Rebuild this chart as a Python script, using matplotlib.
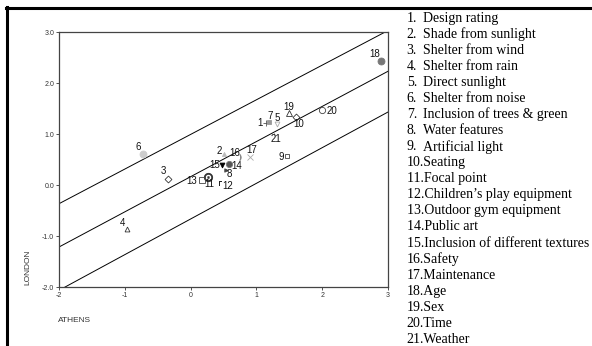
import matplotlib
matplotlib.use('Agg')
from matplotlib import pyplot
from matplotlib.lines import Line2D
import numpy as np

# attribute scores (ATHENS on x, LONDON on y)
point_ids = [str(i) for i in range(1, 22)]
athens = [1.14, 0.51, -0.34, -0.96, 1.31, -0.72, 1.19, 0.54, 1.47, 1.60, 0.27,
          0.44, 0.17, 0.59, 0.48, 0.75, 0.90, 2.90, 1.49, 2.00, 1.26]
london = [1.21, 0.62, 0.12, -0.86, 1.20, 0.61, 1.23, 0.30, 0.58, 1.33, 0.15,
          0.05, 0.10, 0.42, 0.39, 0.56, 0.56, 2.44, 1.41, 1.47, 1.00]
attributes = ['Design rating', 'Shade from sunlight', 'Shelter from wind',
              'Shelter from rain', 'Direct sunlight', 'Shelter from noise',
              'Inclusion of trees & green', 'Water features', 'Artificial light',
              'Seating', 'Focal point', "Children\u2019s play equipment",
              'Outdoor gym equipment', 'Public art',
              'Inclusion of different textures', 'Safety', 'Maintenance',
              'Age', 'Sex', 'Time', 'Weather']

# fitted line and interval half width (a bit narrower to the right)
fit_intercept = 0.165
fit_slope = 0.69
band_at_0 = 0.83
band_slope = -0.01

x_ticks = [-2, -1, 0, 1, 2, 3]
y_ticks = [-2.0, -1.0, 0.0, 1.0, 2.0, 3.0]

# marker style per point: (marker, facecolor, edgecolor, size)
styles = [('+', 'none', '#555555', 4), ('^', '#bbbbbb', '#bbbbbb', 3),
          ('D', 'none', '#333333', 3.5), ('^', 'none', '#333333', 3.5),
          ('v', 'none', '#aaaaaa', 3.5), ('o', '#cccccc', '#cccccc', 5),
          ('s', '#999999', '#999999', 2.5), ('>', '#444444', '#444444', 2.5),
          ('s', 'none', '#444444', 3.5), ('D', 'none', '#333333', 3.5),
          (r'$\odot$', '#333333', '#333333', 6), (r'$\Gamma$', '#222222', '#222222', 3.3),
          ('s', 'none', '#444444', 4), ('o', '#555555', '#777777', 4.5),
          ('v', 'black', 'black', 3.5), (r'$)$', '#888888', '#888888', 4),
          ('x', '#aaaaaa', '#aaaaaa', 4), ('o', '#777777', '#777777', 5),
          ('^', 'none', '#333333', 4), ('o', 'none', '#444444', 4.5),
          ('|', '#aaaaaa', '#aaaaaa', 3)]
# label offsets from marker in pixels (dx, dy down)
label_off = [(-5.5, 0), (-5, -3), (-5, -8), (-5, -6), (0, -6), (-5, -7), (1, -6),
             (3, 4), (-6, 1), (3, 7), (1, 7), (8, 3), (-10, 1), (7, 2), (-7, 0),
             (-5, -4), (2, -7), (-7, -7), (0, -6), (10, 1), (2, 5)]

fig = pyplot.figure(figsize=(5.92, 3.46), dpi=100, facecolor='white')
ax = fig.add_axes([59 / 592, 1 - 287 / 346, 329 / 592, 254.7 / 346])

xs = np.linspace(-2, 3, 200)
centre = fit_intercept + fit_slope * xs
half = band_at_0 + band_slope * xs
for line in (centre + half, centre, centre - half):
    ax.plot(xs, line, color='black', linewidth=0.7)

for i in range(len(athens)):
    m, fc, ec, ms = styles[i]
    ax.plot(athens[i], london[i], marker=m, markerfacecolor=fc, markeredgecolor=ec,
            markersize=ms, markeredgewidth=0.6, linestyle='none')
    dx, dy = label_off[i]
    ax.annotate(point_ids[i], (athens[i], london[i]), xytext=(dx, -dy),
                textcoords='offset pixels', ha='center', va='center',
                fontsize=7, family='Liberation Sans', color='#111111')

ax.set_xlim(-2, 3)
ax.set_ylim(-2, 3)
ax.set_xticks(x_ticks)
ax.set_xticklabels([str(t) for t in x_ticks])
ax.set_yticks(y_ticks)
ax.set_yticklabels([f'{t:.1f}' for t in y_ticks])
ax.tick_params(length=2, width=0.6, pad=1.5, labelsize=5, colors='#333333')
for lab in ax.get_xticklabels() + ax.get_yticklabels():
    lab.set_family('Liberation Sans')
for sp in ax.spines.values():
    sp.set_color('#444444')
    sp.set_linewidth(0.9)

fig.text(28 / 592, 1 - 267 / 346, 'LONDON', rotation=90, ha='center', va='center',
         fontsize=6, family='Liberation Sans', color='#333333')
fig.text(58 / 592, 1 - 321 / 346, 'ATHENS', ha='left', va='center',
         fontsize=6, family='Liberation Sans', color='#333333')

# numbered list on the right
for i, name in enumerate(attributes):
    y = 1 - (18.3 + 16.05 * i) / 346
    if i < 9:
        fig.text(406.7 / 592, y, f'{i + 1}.', ha='left', va='center', fontsize=10,
                 family='Liberation Serif')
        fig.text(423.3 / 592, y, name, ha='left', va='center', fontsize=10,
                 family='Liberation Serif')
    else:
        fig.text(406.7 / 592, y, f'{i + 1}.{name}', ha='left', va='center',
                 fontsize=10, family='Liberation Serif')

# thick frame on top and left
fig.add_artist(Line2D([6 / 592, 1.0], [1 - 8 / 346, 1 - 8 / 346], color='black',
                      linewidth=2.2, transform=fig.transFigure))
fig.add_artist(Line2D([7 / 592, 7 / 592], [0.0, 1 - 7 / 346], color='black',
                      linewidth=2.2, transform=fig.transFigure))

pyplot.savefig('out.png', dpi=100)
